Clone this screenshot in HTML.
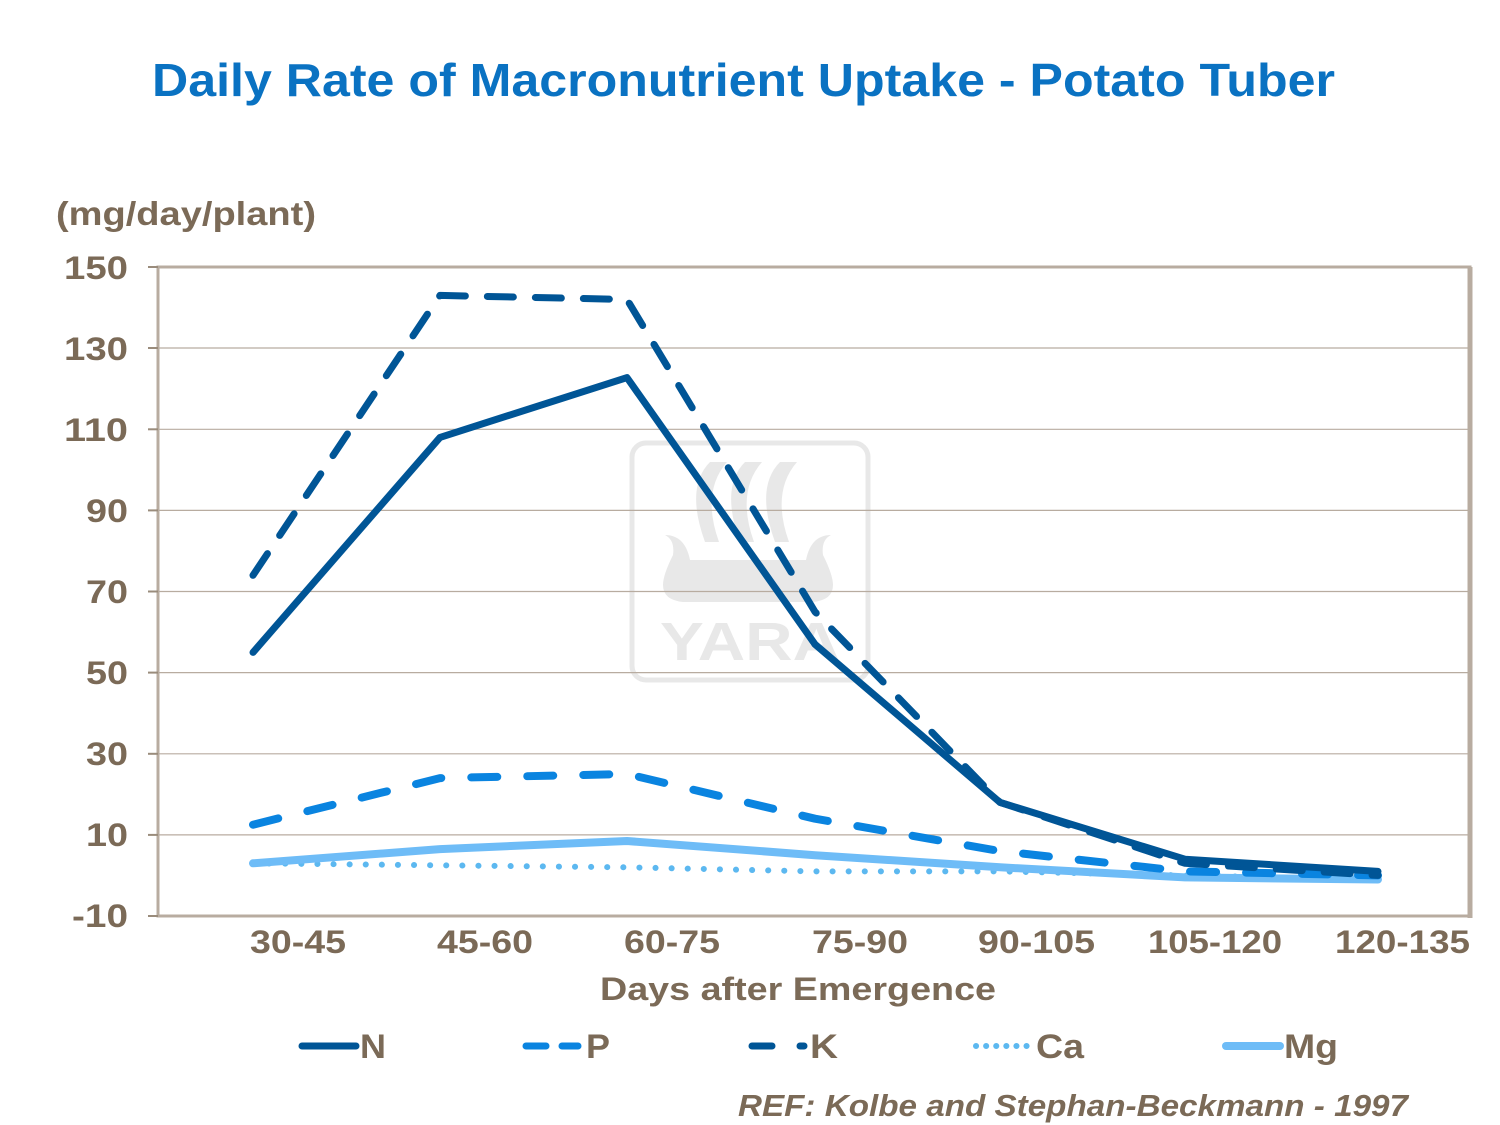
<!DOCTYPE html><html><head><meta charset="utf-8"><style>body{margin:0;background:#fff}svg{display:block}text{font-family:"Liberation Sans",Arial,sans-serif;font-weight:bold}</style></head><body>
<svg width="1500" height="1125" viewBox="0 0 1500 1125">
<text x="152" y="96" font-size="46" fill="#0a72c2" textLength="1183" lengthAdjust="spacingAndGlyphs">Daily Rate of Macronutrient Uptake - Potato Tuber</text>
<text x="56" y="225" font-size="33" fill="#7b6a57" textLength="260" lengthAdjust="spacingAndGlyphs">(mg/day/plant)</text>
<g fill="#e8e8e8" stroke="none">
<rect x="632" y="443" width="236" height="237" rx="14" fill="none" stroke="#e8e8e8" stroke-width="5"/>
<path d="M710 462 q-25 25 -5 80 h14 q-18 -50 8 -80z M745 462 q-25 25 -5 80 h14 q-18 -50 8 -80z M780 462 q-25 25 -5 80 h14 q-18 -50 8 -80z"/>
<path d="M665 535 q10 5 8 20 q-10 20 -10 30 q0 15 20 17 h130 q20 -2 20 -17 q0 -10 -10 -30 q-2 -15 8 -20 q-20 0 -25 25 h-116 q-5 -25 -25 -25z"/>
<text x="660" y="660" font-size="54" fill="#e8e8e8" textLength="180" lengthAdjust="spacingAndGlyphs">YARA</text>
</g>
<g stroke="#b8aca0" stroke-width="1.2">
<line x1="158" y1="348" x2="1470" y2="348"/><line x1="158" y1="429.3" x2="1470" y2="429.3"/><line x1="158" y1="510.4" x2="1470" y2="510.4"/><line x1="158" y1="591.5" x2="1470" y2="591.5"/><line x1="158" y1="672.6" x2="1470" y2="672.6"/><line x1="158" y1="753.8" x2="1470" y2="753.8"/><line x1="158" y1="834.9" x2="1470" y2="834.9"/>
</g>
<rect x="158" y="267" width="1312" height="649" fill="none" stroke="#b8aca0" stroke-width="3"/>
<line x1="1470" y1="267" x2="1470" y2="918" stroke="#b8aca0" stroke-width="5"/>
<g stroke="#9a8c7c" stroke-width="2"><line x1="148" y1="267" x2="158" y2="267"/><line x1="148" y1="348" x2="158" y2="348"/><line x1="148" y1="429.3" x2="158" y2="429.3"/><line x1="148" y1="510.4" x2="158" y2="510.4"/><line x1="148" y1="591.5" x2="158" y2="591.5"/><line x1="148" y1="672.6" x2="158" y2="672.6"/><line x1="148" y1="753.8" x2="158" y2="753.8"/><line x1="148" y1="834.9" x2="158" y2="834.9"/><line x1="148" y1="916" x2="158" y2="916"/></g>
<g font-size="32" fill="#7b6a57" lengthAdjust="spacingAndGlyphs">
<text x="64" y="279" textLength="64" lengthAdjust="spacingAndGlyphs">150</text>
<text x="64" y="360" textLength="64" lengthAdjust="spacingAndGlyphs">130</text>
<text x="64" y="441" textLength="64" lengthAdjust="spacingAndGlyphs">110</text>
<text x="86" y="522" textLength="42" lengthAdjust="spacingAndGlyphs">90</text>
<text x="86" y="603" textLength="42" lengthAdjust="spacingAndGlyphs">70</text>
<text x="86" y="684" textLength="42" lengthAdjust="spacingAndGlyphs">50</text>
<text x="86" y="765" textLength="42" lengthAdjust="spacingAndGlyphs">30</text>
<text x="86" y="846" textLength="42" lengthAdjust="spacingAndGlyphs">10</text>
<text x="72" y="927" textLength="56" lengthAdjust="spacingAndGlyphs">-10</text>
</g>
<g font-size="32" fill="#7b6a57">
<text x="250" y="953" textLength="96" lengthAdjust="spacingAndGlyphs">30-45</text>
<text x="437" y="953" textLength="96" lengthAdjust="spacingAndGlyphs">45-60</text>
<text x="624" y="953" textLength="96" lengthAdjust="spacingAndGlyphs">60-75</text>
<text x="812" y="953" textLength="96" lengthAdjust="spacingAndGlyphs">75-90</text>
<text x="978" y="953" textLength="117" lengthAdjust="spacingAndGlyphs">90-105</text>
<text x="1148" y="953" textLength="134" lengthAdjust="spacingAndGlyphs">105-120</text>
<text x="1335" y="953" textLength="135" lengthAdjust="spacingAndGlyphs">120-135</text>
<text x="600" y="1000" textLength="396" lengthAdjust="spacingAndGlyphs">Days after Emergence</text>
</g>
<g fill="none" stroke-linecap="round" stroke-linejoin="round">
<polyline points="253,863.3 440,865.3 627,867.3 815,871.4 1000,871.4 1185,875.4 1378,879.5" stroke="#5cb8f0" stroke-width="6" stroke-dasharray="0.1 16"/>
<polyline points="253,863.3 440,849.1 627,841 815,855.2 1000,867.3 1185,877.4 1378,879.5" stroke="#6ebcf7" stroke-width="8"/>
<polyline points="253,824.7 440,778.1 627,774 815,818.7 1000,851.1 1185,871.4 1378,875.4" stroke="#0a84e0" stroke-width="8" stroke-dasharray="26 30"/>
<polyline points="253,575.3 440,295.4 627,299.5 815,611.8 1000,802.4 1185,863.3 1378,875.4" stroke="#005596" stroke-width="7" stroke-dasharray="26 22"/>
<polyline points="253,652.4 440,437.4 627,377.6 815,644.3 1000,802.4 1185,859.2 1378,871.4" stroke="#005596" stroke-width="7"/>
</g>
<g stroke-linecap="round" fill="none">
<line x1="302" y1="1046" x2="356" y2="1046" stroke="#005596" stroke-width="7"/>
<line x1="526" y1="1046" x2="546" y2="1046" stroke="#0a84e0" stroke-width="7"/><line x1="562" y1="1046" x2="578" y2="1046" stroke="#0a84e0" stroke-width="7"/>
<line x1="752" y1="1046" x2="772" y2="1046" stroke="#005596" stroke-width="7"/><line x1="800" y1="1046" x2="804" y2="1046" stroke="#005596" stroke-width="7"/>
<line x1="976" y1="1046" x2="1030" y2="1046" stroke="#5cb8f0" stroke-width="6" stroke-dasharray="0.1 10"/>
<line x1="1226" y1="1046" x2="1280" y2="1046" stroke="#6ebcf7" stroke-width="8"/>
</g>
<g font-size="34" fill="#7b6a57">
<text x="360" y="1058" textLength="26" lengthAdjust="spacingAndGlyphs">N</text>
<text x="586" y="1058" textLength="24" lengthAdjust="spacingAndGlyphs">P</text>
<text x="810" y="1058" textLength="28" lengthAdjust="spacingAndGlyphs">K</text>
<text x="1036" y="1058" textLength="48" lengthAdjust="spacingAndGlyphs">Ca</text>
<text x="1284" y="1058" textLength="54" lengthAdjust="spacingAndGlyphs">Mg</text>
</g>
<text x="738" y="1116" font-size="31" font-style="italic" fill="#7b6a57" textLength="670" lengthAdjust="spacingAndGlyphs">REF: Kolbe and Stephan-Beckmann  - 1997</text>
</svg></body></html>
